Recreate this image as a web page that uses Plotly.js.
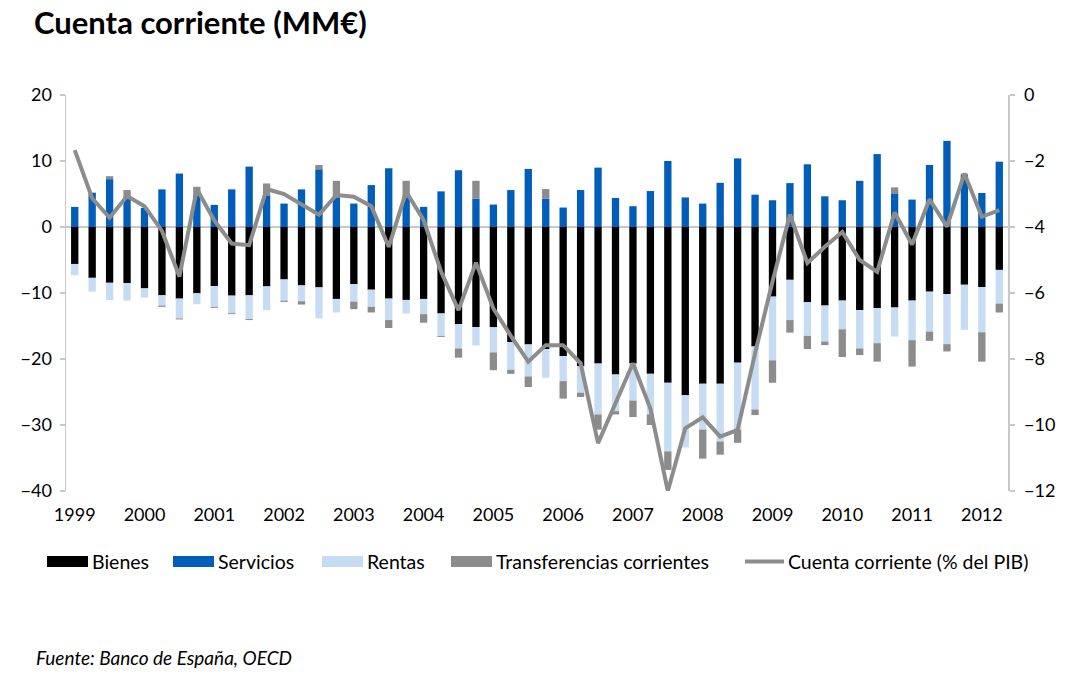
<!DOCTYPE html>
<html><head><meta charset="utf-8">
<script src="https://cdn.plot.ly/plotly-3.0.1.min.js"></script>
<style>html,body{margin:0;padding:0;background:#fff}#chart{width:1080px;height:675px}</style>
</head><body><div id="chart"></div>
<script>
// Quarterly periods 1999 T1 – 2012 T2
const periodos = [
 "1999 T1","1999 T2","1999 T3","1999 T4","2000 T1","2000 T2","2000 T3","2000 T4",
 "2001 T1","2001 T2","2001 T3","2001 T4","2002 T1","2002 T2","2002 T3","2002 T4",
 "2003 T1","2003 T2","2003 T3","2003 T4","2004 T1","2004 T2","2004 T3","2004 T4",
 "2005 T1","2005 T2","2005 T3","2005 T4","2006 T1","2006 T2","2006 T3","2006 T4",
 "2007 T1","2007 T2","2007 T3","2007 T4","2008 T1","2008 T2","2008 T3","2008 T4",
 "2009 T1","2009 T2","2009 T3","2009 T4","2010 T1","2010 T2","2010 T3","2010 T4",
 "2011 T1","2011 T2","2011 T3","2011 T4","2012 T1","2012 T2"];
const anios = ["1999","2000","2001","2002","2003","2004","2005","2006","2007","2008","2009","2010","2011","2012"];
const anioTicks = ["1999 T1","2000 T1","2001 T1","2002 T1","2003 T1","2004 T1","2005 T1","2006 T1","2007 T1","2008 T1","2009 T1","2010 T1","2011 T1","2012 T1"];

// MM€
const bienes = [-5.6,-7.7,-8.45,-8.5,-9.3,-10.35,-10.85,-10.05,-8.95,-10.4,
 -10.35,-9.0,-7.95,-8.85,-9.15,-10.9,-8.65,-9.5,-10.85,-11.05,
 -10.9,-13.1,-14.7,-15.15,-15.2,-17.45,-17.8,-18.5,-19.55,-21.05,
 -20.7,-22.35,-20.7,-22.25,-23.6,-25.5,-23.75,-23.75,-20.55,-18.1,
 -10.55,-8.0,-11.4,-11.9,-11.15,-12.6,-12.3,-12.2,-11.15,-9.8,
 -10.15,-8.75,-9.1,-6.5];
const servicios = [3.05,5.2,7.25,4.5,2.9,5.7,8.1,4.8,3.35,5.7,
 9.15,4.8,3.55,5.7,8.75,4.5,3.55,6.35,8.9,4.5,
 3.05,5.4,8.6,4.3,3.4,5.6,8.8,4.3,2.95,5.6,
 9.0,4.4,3.15,5.45,10.0,4.45,3.55,6.7,10.4,4.9,
 4.05,6.65,9.5,4.65,4.05,7.0,11.05,5.1,4.15,9.4,
 13.05,7.9,5.15,9.9];
const rentas = [-1.7,-2.1,-2.6,-2.65,-1.4,-1.55,-3.0,-1.65,-3.15,-2.65,
 -3.6,-3.6,-3.2,-2.4,-4.7,-2.05,-2.65,-2.6,-3.25,-2.05,
 -2.3,-3.4,-3.7,-2.8,-3.8,-4.2,-4.85,-4.35,-3.8,-4.05,
 -7.7,-5.55,-5.6,-6.15,-10.4,-7.9,-6.95,-8.75,-10.15,-9.55,
 -9.65,-6.1,-5.1,-5.45,-4.35,-5.8,-5.3,-4.4,-6.0,-6.05,
 -7.6,-6.85,-6.85,-5.1];
const transferencias = [0,0,0.45,1.1,0,-0.2,-0.15,1.3,-0.15,-0.15,
 -0.15,1.8,-0.2,-0.5,0.65,2.5,-1.15,-0.85,-1.2,2.5,
 -1.3,-0.15,-1.4,2.7,-2.7,-0.6,-1.6,1.45,-2.65,-0.65,
 -2.3,-0.5,-2.5,-1.6,-2.8,0.1,-4.4,-2.0,-2.0,-0.85,
 -3.4,-1.9,-2.0,-0.55,-4.2,-1.0,-2.8,0.9,-4.0,-1.4,
 -1.1,0.2,-4.45,-1.35];
// % del PIB
const cuentaPIB = [-1.67,-3.13,-3.72,-3.06,-3.37,-4.12,-5.5,-2.85,-3.8,-4.5,
 -4.55,-2.85,-3.0,-3.3,-3.63,-3.03,-3.08,-3.37,-4.6,-2.93,
 -3.79,-5.35,-6.52,-5.08,-6.47,-7.3,-8.08,-7.58,-7.58,-8.13,
 -10.55,-9.34,-8.13,-9.5,-12.0,-10.1,-9.77,-10.35,-10.15,-7.83,
 -5.65,-3.62,-5.09,-4.6,-4.15,-5.0,-5.36,-3.56,-4.53,-3.16,
 -3.99,-2.38,-3.69,-3.49];

const nombres = ["Bienes","Servicios","Rentas","Transferencias corrientes","Cuenta corriente (% del PIB)"];
const colores = ["#000000","#005EB8","#C5DCF4","#8C8C8C","#8C8C8C"];

const FONT = "Lato, 'Open Sans', sans-serif";

const series = [bienes, servicios, rentas, transferencias];
const traces = series.map((v,i)=>({
  type:"bar", x:periodos, y:v, name:nombres[i],
  marker:{color:colores[i], line:{width:0}}, showlegend:false, hoverinfo:"skip"
}));
traces.push({
  type:"scatter", mode:"lines", x:periodos, y:cuentaPIB, yaxis:"y2", name:nombres[4],
  line:{color:colores[4], width:4}, cliponaxis:false, showlegend:false, hoverinfo:"skip"
});

// plot-area geometry helpers (pixels -> paper)
const L=66, R=1008, T=95, B=491;
const px = x => (x-L)/(R-L);
const py = y => (B-y)/(B-T);

// manual legend
const legX = [47,173,322,451,745];
const legW = 41;
const shapes = [];
const annotations = [];
nombres.forEach((n,i)=>{
  if(i<4){
    shapes.push({type:"rect", xref:"paper", yref:"paper", x0:px(legX[i]), x1:px(legX[i]+legW),
      y0:py(567), y1:py(556), fillcolor:colores[i], line:{width:0}});
  } else {
    shapes.push({type:"line", xref:"paper", yref:"paper", x0:px(legX[i]), x1:px(legX[i]+39),
      y0:py(561.5), y1:py(561.5), line:{color:colores[i], width:4}});
  }
  annotations.push({xref:"paper", yref:"paper", x:px(legX[i]+(i<4?legW+2:41)), y:py(561),
    xanchor:"left", yanchor:"middle", showarrow:false, text:n,
    font:{family:FONT, size:19.5, color:"#000"}});
});
annotations.push({xref:"paper", yref:"paper", x:px(34), y:py(657), xanchor:"left", yanchor:"middle",
  showarrow:false, text:"<i>Fuente: Banco de España, OECD</i>", font:{family:FONT, size:19, color:"#000"}});

// boundaries between years for small ticks on the zero line
const limites = anios.slice(1).map((a,i)=>4*(i+1)-0.5);

const layout = {
  width:1080, height:675,
  margin:{l:L, r:1080-R, t:T, b:675-B},
  paper_bgcolor:"#fff", plot_bgcolor:"#fff",
  barmode:"relative", bargap:0.58,
  title:{text:"<b>Cuenta corriente (MM€)</b>", xref:"container", yref:"container",
    x:34/1080, xanchor:"left", y:1-23/675, yanchor:"middle",
    font:{family:FONT, size:31, color:"#000", weight:900}},
  font:{family:FONT, size:18, color:"#000"},
  xaxis:{type:"category", range:[-0.5,53.5], tickmode:"array", tickvals:anioTicks, ticktext:anios,
    ticks:"", showline:false, showgrid:false, zeroline:false, ticklabelstandoff:11,
    tickfont:{family:FONT, size:18, color:"#000"}},
  xaxis2:{overlaying:"x", anchor:"free", position:40/60, type:"linear", range:[-0.5,53.5],
    tickmode:"array", tickvals:limites, ticks:"outside", ticklen:4, tickwidth:1.5, tickcolor:"#C8C8C8",
    showticklabels:false, showline:false, showgrid:false, zeroline:false},
  yaxis:{range:[-40,20], dtick:10, tick0:0, ticks:"outside", ticklen:5, tickcolor:"#C8C8C8", tickwidth:1.5,
    showline:true, linecolor:"#C8C8C8", linewidth:1.5, showgrid:false,
    zeroline:true, zerolinecolor:"#C8C8C8", zerolinewidth:2,
    tickfont:{family:FONT, size:18, color:"#000"}, ticklabelstandoff:4},
  yaxis2:{overlaying:"y", side:"right", range:[-12,0], dtick:2, tick0:0, ticks:"outside", ticklen:5,
    tickcolor:"#C8C8C8", tickwidth:1.5, showline:true, linecolor:"#C8C8C8", linewidth:1.5,
    showgrid:false, zeroline:false, tickfont:{family:FONT, size:18, color:"#000"}, ticklabelstandoff:6},
  showlegend:false,
  shapes:shapes, annotations:annotations
};

Plotly.newPlot("chart", traces, layout, {staticPlot:true, displayModeBar:false});
</script>
</body></html>
